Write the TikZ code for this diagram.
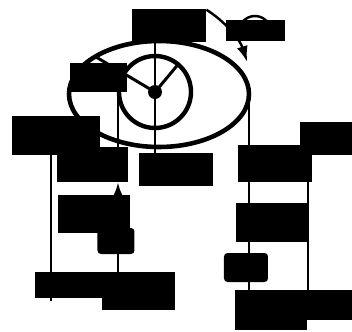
\documentclass[tikz,border=0pt]{standalone}
\usepackage{amsmath,amssymb}
\usepackage{tikz}
\usetikzlibrary{arrows.meta}

\tikzset{
  lbl/.style={fill=black, text=black, inner sep=0pt},
  mass/.style={fill=black, text=black, inner sep=0pt, rounded corners=2pt},
  rope/.style={line width=1.3pt},
  axisline/.style={line width=1.1pt},
}

\begin{document}
\begin{tikzpicture}[x=0.2mm, y=-0.2mm]
    \useasboundingbox (0,0) rectangle (352,332);
    % Wheel and axle
    \coordinate (O) at (155,92);
    \coordinate (lrope) at (118,92);
    \coordinate (rrope) at (249,94);
    \coordinate (laxis) at (51,301);
    \coordinate (raxis) at (308,0);
    \draw[line width=2.6pt] (159,94) ellipse [x radius=90, y radius=53];
    \draw[line width=2.5pt] (O) circle [radius=36];
    \draw[line width=1.7pt] (O) -- (96,57);
    \draw[line width=1.7pt] (O) -- ++(-50:36);
    \fill (O) circle [radius=7];
    % Rotation arrow
    \draw[line width=1.4pt, -{Latex[length=3.2mm,width=2.2mm]}] (O) ++(-58:97) arc[start angle=-58, end angle=-18, radius=97];
    \draw[line width=1.4pt] (241.1,24) arc[start angle=-150, end angle=-30, radius=16];
    % Axle line
    \draw[line width=1.1pt] (O) -- ++(0,-52);
    \draw[line width=1.1pt] (O) -- ++(0,62);
    % Ropes
    \draw[rope] (lrope) -- ++(0,60);
    \draw[rope] (rrope) -- (249,316);
    % Labels
    \node[lbl, minimum width=14.8mm, minimum height=6.6mm] (R) at (169,25.5) {$R$};
    \node[lbl, minimum width=11.8mm, minimum height=4.2mm] (omega) at (255.5,30.5) {$\omega$};
    \node[lbl, minimum width=11.4mm, minimum height=5.8mm] (r) at (98.5,77.5) {$r$};
    \node[lbl, minimum width=17.6mm, minimum height=7.8mm] (Zl) at (56,135.5) {$Z'$};
    \node[lbl, minimum width=10.4mm, minimum height=6.6mm] (Or) at (326,138.5) {$O$};
    \node[lbl, minimum width=14.2mm, minimum height=7mm] (x1) at (92.5,164.5) {$x_1$};
    \node[lbl, minimum width=14.8mm, minimum height=6.6mm] (J) at (176,169.5) {$J$};
    \node[lbl, minimum width=14.8mm, minimum height=7.4mm] (x2) at (275,163.5) {$x_2$};
    \node[lbl, minimum width=14.4mm, minimum height=7.6mm] (T1) at (94,214) {$T_1$};
    \node[lbl, minimum width=14.4mm, minimum height=7.8mm] (T2) at (272,222.5) {$T_2$};
    % Masses
    \node[mass, minimum width=7.4mm, minimum height=5.2mm] (m1) at (116,241) {$m_1$};
    \node[mass, minimum width=8.8mm, minimum height=5.8mm] (m2) at (246,267.5) {$m_2$};
    % Forces on the masses
    \draw[rope, -{Latex[length=2.8mm,width=2mm]}] (m1.north -| lrope) -- (x1.south -| lrope);
    \draw[rope] (m1.south -| lrope) -- ++(0,40);
    \draw[rope, -{Latex[length=2.8mm,width=2mm]}] (m2.south -| rrope) -- (249,331);
    % Coordinate axes
    \draw[axisline] (Zl.south -| laxis) -- (laxis);
    \draw[axisline] (Or.south -| raxis) -- ++(0,140);
    % Bottom labels
    \node[lbl, minimum width=15mm, minimum height=5.2mm] (Ol) at (72.5,285) {$O'$};
    \node[lbl, minimum width=14.6mm, minimum height=7.6mm] (F1) at (138.5,291) {$F_1$};
    \node[lbl, minimum width=14.4mm, minimum height=8mm] (F2) at (271,310) {$F_2$};
    \node[lbl, minimum width=9mm, minimum height=6mm] (Zr) at (329.5,305) {$Z$};
\end{tikzpicture}
\end{document}
